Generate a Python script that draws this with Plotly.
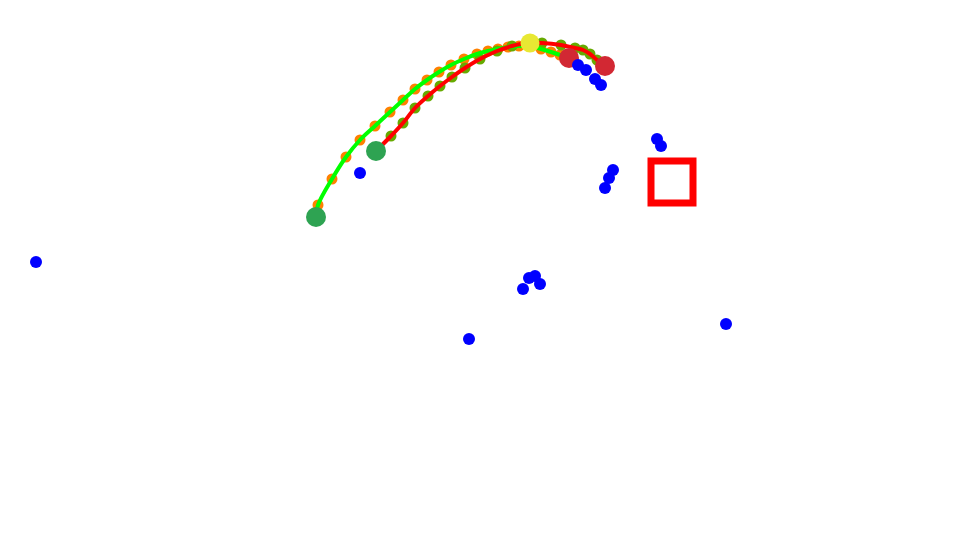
import plotly.graph_objects as go

# Trajectory A (green line, orange waypoints)
traj_a_x = [316, 318, 332, 346, 360, 375, 390, 403, 415, 427, 439, 451, 464, 477, 488, 498, 508, 519, 530, 541, 551, 560, 569]
traj_a_y = [217, 205, 179, 157, 140, 126, 112, 100, 89, 80, 72, 65, 59, 54, 51, 49, 47, 46, 46, 49, 52, 55, 58]

# Trajectory B (red line, olive waypoints)
traj_b_x = [376, 391, 403, 415, 428, 440, 452, 465, 480, 497, 512, 527, 542, 561, 575, 583, 590, 597, 605]
traj_b_y = [151, 136, 123, 108, 96, 86, 77, 68, 59, 51, 46, 43, 43, 45, 48, 50, 54, 60, 66]

# Obstacles / sample points
blue_x = [36, 360, 469, 523, 529, 535, 540, 726, 578, 586, 595, 601, 605, 609, 613, 657, 661]
blue_y = [262, 173, 339, 289, 278, 276, 284, 324, 65, 70, 79, 85, 188, 178, 170, 139, 146]

start_x = [316, 376]
start_y = [217, 151]
end_x = [569, 605]
end_y = [58, 66]
peak_x = [530]
peak_y = [43]
goal_x = [672]
goal_y = [182]

fig = go.Figure()
fig.add_trace(go.Scatter(x=traj_a_x[1:-1], y=traj_a_y[1:-1], mode="markers",
                         marker=dict(color="#ff8000", size=11), hoverinfo="skip"))
fig.add_trace(go.Scatter(x=traj_b_x[1:-1], y=traj_b_y[1:-1], mode="markers",
                         marker=dict(color="#66aa00", size=11), hoverinfo="skip"))
fig.add_trace(go.Scatter(x=traj_a_x, y=traj_a_y, mode="lines",
                         line=dict(color="#00ff00", width=4, shape="spline", smoothing=1.0)))
fig.add_trace(go.Scatter(x=traj_b_x, y=traj_b_y, mode="lines",
                         line=dict(color="#ff0000", width=4, shape="spline", smoothing=1.0)))
fig.add_trace(go.Scatter(x=start_x, y=start_y, mode="markers",
                         marker=dict(color="#2ea352", size=20)))
fig.add_trace(go.Scatter(x=end_x, y=end_y, mode="markers",
                         marker=dict(color="#d22833", size=20)))
fig.add_trace(go.Scatter(x=peak_x, y=peak_y, mode="markers",
                         marker=dict(color="#e8e833", size=19)))
fig.add_trace(go.Scatter(x=blue_x, y=blue_y, mode="markers",
                         marker=dict(color="#0000ff", size=12)))
fig.add_trace(go.Scatter(x=goal_x, y=goal_y, mode="markers",
                         marker=dict(symbol="square-open", color="#ff0000", size=42,
                                     line=dict(color="#ff0000", width=7))))

fig.update_layout(
    width=960, height=540,
    margin=dict(l=0, r=0, t=0, b=0),
    paper_bgcolor="white", plot_bgcolor="white",
    showlegend=False,
    xaxis=dict(range=[0, 960], visible=False),
    yaxis=dict(range=[540, 0], visible=False),
)
fig.write_html("out.html")
